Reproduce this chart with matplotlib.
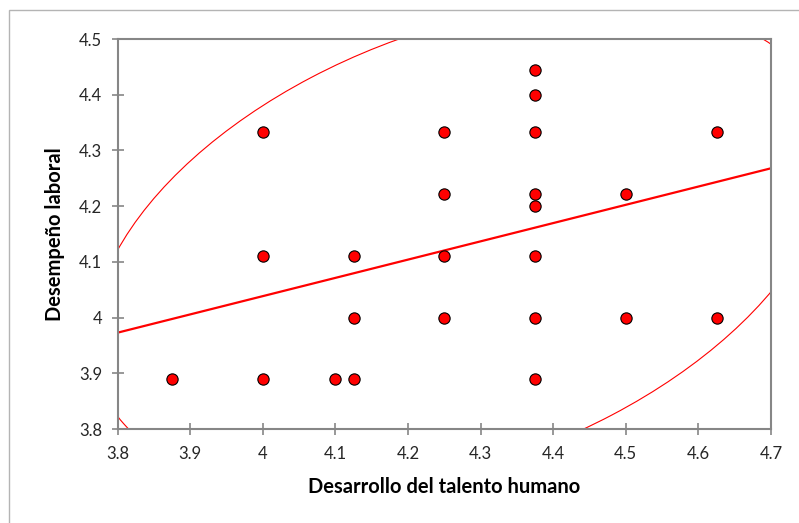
import numpy as np
import matplotlib.pyplot as plt
from matplotlib.patches import Ellipse, Rectangle

plt.rcParams['font.family'] = ['Lato', 'DejaVu Sans']

# data points (talento humano vs desempeño laboral)
x = [3.875, 4.0, 4.0, 4.0, 4.1, 4.125, 4.125, 4.125,
     4.25, 4.25, 4.25, 4.25,
     4.375, 4.375, 4.375, 4.375, 4.375, 4.375, 4.375, 4.375,
     4.5, 4.5, 4.625, 4.625]
y = [3.889, 4.333, 4.111, 3.889, 3.889, 4.111, 4.0, 3.889,
     4.333, 4.222, 4.111, 4.0,
     4.444, 4.4, 4.333, 4.222, 4.2, 4.111, 4.0, 3.889,
     4.222, 4.0, 4.333, 4.0]

# regression line
line_x = [3.8, 4.7]
line_y = [3.9729, 4.268]

# confidence ellipse (center, semi-axes, angle)
ell_center = (4.2737, 4.1280)
ell_a = 0.3669
ell_b = 0.5638
ell_angle = 124.43

xticks = [3.8, 3.9, 4.0, 4.1, 4.2, 4.3, 4.4, 4.5, 4.6, 4.7]
xticklabels = ['3.8', '3.9', '4', '4.1', '4.2', '4.3', '4.4', '4.5', '4.6', '4.7']
yticks = [3.8, 3.9, 4.0, 4.1, 4.2, 4.3, 4.4, 4.5]
yticklabels = ['3.8', '3.9', '4', '4.1', '4.2', '4.3', '4.4', '4.5']

fig = plt.figure(figsize=(7.99, 5.23), dpi=100)
ax = fig.add_axes([0.1471, 0.1797, 0.8179, 0.7457])

ax.add_patch(Ellipse(ell_center, 2*ell_a, 2*ell_b, angle=ell_angle, fill=False,
                     edgecolor='red', linewidth=0.8))
ax.plot(line_x, line_y, color='red', linewidth=1.6)
ax.scatter(x, y, s=66, color='red', edgecolor='black', linewidth=0.8, zorder=3)

ax.set_xlim(3.8, 4.7)
ax.set_ylim(3.8, 4.5)
ax.set_xticks(xticks)
ax.set_yticks(yticks)
ax.set_xticklabels(xticklabels)
ax.set_yticklabels(yticklabels)
for s in ax.spines.values():
    s.set_color('#868686')
    s.set_linewidth(1.5)
ax.tick_params(direction='inout', length=8, width=1.2, color='#868686',
               labelsize=12, labelcolor='#262626')
ax.tick_params(axis='x', pad=8)
ax.tick_params(axis='y', pad=7)
ax.set_xlabel('Desarrollo del talento humano', fontsize=14.5, fontweight='bold', labelpad=11)
ax.set_ylabel('Desempeño laboral', fontsize=14.5, fontweight='bold', labelpad=10)

fig.patches.append(Rectangle((9/799, -0.1), 1.2, 1 - 10/523 + 0.1,
                             transform=fig.transFigure, fill=False,
                             edgecolor='#b4b4b4', linewidth=1.0))
fig.savefig('out.png')
